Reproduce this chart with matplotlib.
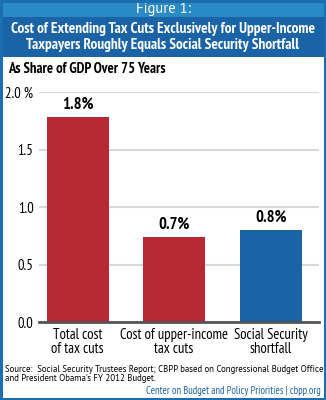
import matplotlib
matplotlib.use("Agg")
import matplotlib.pyplot as plt
from matplotlib.patches import Rectangle

categories = ["Total cost\nof tax cuts", "Cost of upper-income\ntax cuts", "Social Security\nshortfall"]
shares = [1.78, 0.74, 0.80]
bar_colors = ["#b72a33", "#b72a33", "#1a63a6"]
yticks = [0.0, 0.5, 1.0, 1.5, 2.0]
ytick_labels = ["0.0", "0.5", "1.0", "1.5", "2.0 %"]

plt.rcParams['font.family'] = ['PT Sans Narrow', 'DejaVu Sans']

W, H = 326, 400
fig = plt.figure(figsize=(W / 100, H / 100), dpi=100)
fig.patch.set_facecolor("white")

def fx(px):
    return px / W

def fy(py):
    return 1 - py / H

# header bands
fig.patches.append(Rectangle((0, fy(17)), 1, 17 / H, transform=fig.transFigure,
                             facecolor="#2a8ac6", edgecolor="none", zorder=0))
fig.patches.append(Rectangle((0, fy(57)), 1, 40 / H, transform=fig.transFigure,
                             facecolor="#1a63a6", edgecolor="none", zorder=0))
# outer frame
fig.patches.append(Rectangle((fx(1), fy(399)), 1 - 2 / W, 1 - 2 / H, transform=fig.transFigure,
                             facecolor="none", edgecolor="#1b6fb0", linewidth=2.2, zorder=5))

fig.text(0.5, fy(8.5), "Figure 1:", color="white", fontsize=10.5, ha="center", va="center",
         family=['PT Sans', 'DejaVu Sans'])
fig.text(0.5, fy(37), "Cost of Extending Tax Cuts Exclusively for Upper-Income\n"
         "Taxpayers Roughly Equals Social Security Shortfall",
         color="white", fontsize=11, fontweight="bold", ha="center", va="center",
         linespacing=1.15)
fig.text(fx(8), fy(69), "As Share of GDP Over 75 Years", fontsize=10.5, fontweight="bold",
         ha="left", va="center", color="black")

ax = fig.add_axes([fx(39), fy(322), fx(319) - fx(39), (322 - 92) / H])
x = list(range(len(categories)))
bars = ax.bar(x, shares, width=0.64, color=bar_colors, zorder=3)
for b, v in zip(bars, shares):
    ax.text(b.get_x() + b.get_width() / 2, v + 0.04, f"{v:.1f}%", ha="center", va="bottom",
            fontsize=12, fontweight="bold", color="black")

ax.set_xlim(-0.40, 2.50)
ax.set_ylim(0, 2.0)
ax.set_yticks(yticks)
ax.set_yticklabels(ytick_labels, fontsize=10.5)
ax.set_xticks(x)
ax.set_xticklabels(categories, fontsize=10.5, linespacing=1.0)
ax.tick_params(axis="both", length=0, pad=4)
ax.yaxis.grid(True, color="#d9d9d9", linewidth=1.5, zorder=0)
ax.set_axisbelow(True)
for s in ["top", "right", "left"]:
    ax.spines[s].set_visible(False)
ax.spines["bottom"].set_color("#555555")
ax.spines["bottom"].set_linewidth(2)
ax.spines["bottom"].set_zorder(4)

fig.text(fx(5), fy(374), "Source:  Social Security Trustees Report; CBPP based on Congressional Budget Office\n"
         "and President Obama's FY 2012 Budget.", fontsize=6.4, ha="left", va="center",
         linespacing=1.0, color="black", family=['PT Sans', 'DejaVu Sans'])
fig.text(fx(321), fy(391), "Center on Budget and Policy Priorities | cbpp.org", fontsize=7.6,
         ha="right", va="center", color="#1a63a6", family=['PT Sans Narrow', 'DejaVu Sans'])

fig.savefig("out.png", dpi=100)
